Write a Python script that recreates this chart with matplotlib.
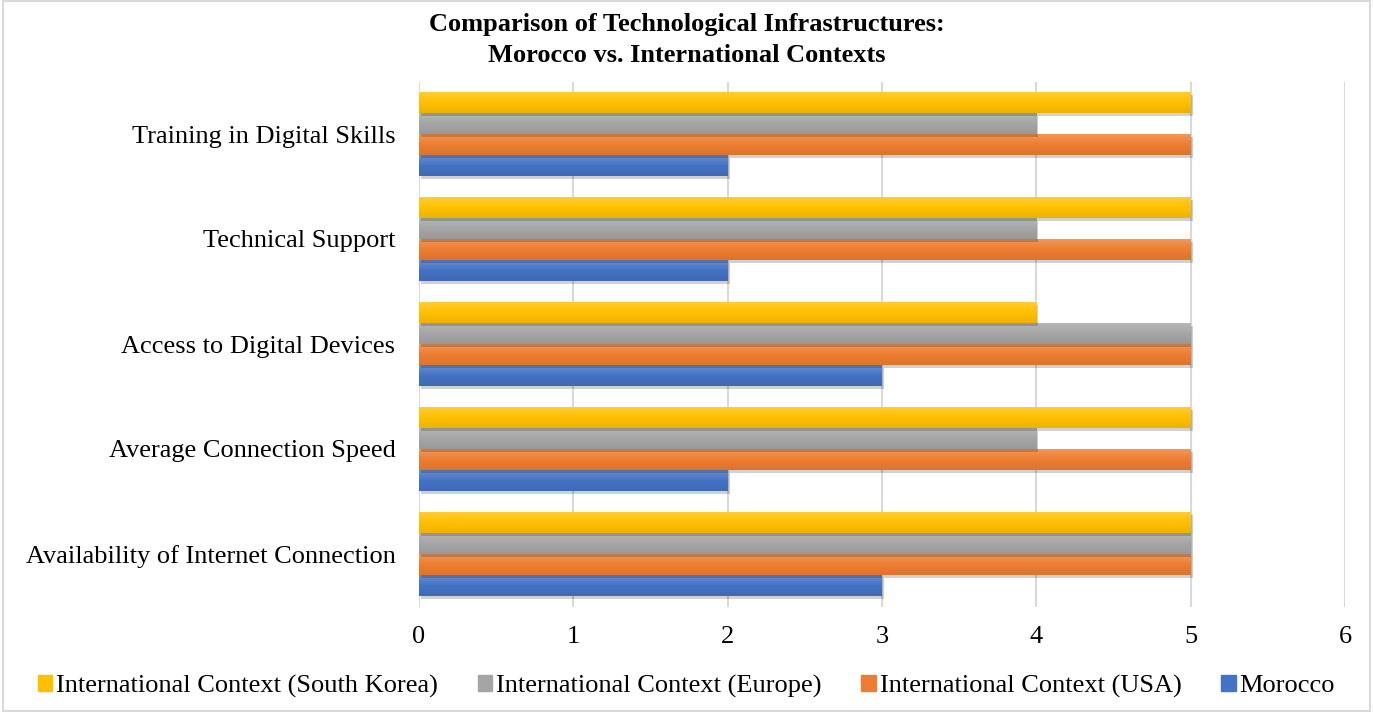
import matplotlib
matplotlib.use('Agg')
import matplotlib.pyplot as plt
import matplotlib.patheffects as pe
from matplotlib.patches import Rectangle
from matplotlib.colors import LinearSegmentedColormap, to_rgb
import numpy as np

categories = ['Availability of Internet Connection', 'Average Connection Speed',
              'Access to Digital Devices', 'Technical Support', 'Training in Digital Skills']
morocco = [3, 2, 3, 2, 2]
usa = [5, 5, 5, 5, 5]
europe = [5, 4, 5, 4, 4]
korea = [5, 5, 4, 5, 5]

series = [('Morocco', morocco, '#4472C4'),
          ('International Context (USA)', usa, '#ED7D31'),
          ('International Context (Europe)', europe, '#A5A5A5'),
          ('International Context (South Korea)', korea, '#FFC000')]

plt.rcParams['font.family'] = ['Liberation Serif', 'DejaVu Serif']

fig = plt.figure(figsize=(13.73, 7.12), dpi=100)
ax = fig.add_axes([419 / 1373, 1 - 606.5 / 712, (1345 - 419) / 1373, (606.5 - 81.5) / 712])

y = np.arange(len(categories))
h = 0.2
offsets = [-0.3, -0.1, 0.1, 0.3]
grad = np.linspace(0, 1, 50).reshape(-1, 1)
for i, ((name, vals, col), off) in enumerate(zip(series, offsets)):
    z = 3 + 2 * i
    ax.barh(y + off, vals, height=h, color=col, zorder=z,
            path_effects=[pe.SimplePatchShadow(offset=(1.5, -2.5), shadow_rgbFace='#000000', alpha=0.18),
                          pe.Normal()])
    c = np.array(to_rgb(col))
    top = c + (1 - c) * 0.2
    bot = c * 0.93
    cmap = LinearSegmentedColormap.from_list(name, [bot, c, top])
    for yy, v in zip(y + off, vals):
        ax.imshow(grad, extent=[0, v, yy - h / 2, yy + h / 2], aspect='auto', cmap=cmap,
                  origin='lower', zorder=z + 0.5, interpolation='bilinear')

ax.set_xlim(0, 6)
ax.set_ylim(-0.5, 4.5)
ax.set_xticks(range(7))
ax.set_yticks(y)
ax.set_yticklabels(categories)
ax.tick_params(axis='both', length=0, labelsize=19, colors='#000000')
ax.tick_params(axis='x', pad=14)
ax.tick_params(axis='y', pad=17)
ax.grid(axis='x', color='#D9D9D9', linewidth=1.5, zorder=0)
for s in ax.spines.values():
    s.set_visible(False)

fig.text(0.5, 1 - 25 / 712, 'Comparison of Technological Infrastructures:', ha='center', va='center',
         fontsize=19, fontweight='bold')
fig.text(0.5, 1 - 55 / 712, 'Morocco vs. International Contexts', ha='center', va='center',
         fontsize=19, fontweight='bold')

handles = [Rectangle((0, 0), 1, 1, color=s[2]) for s in series][::-1]
leg = fig.legend(handles, [s[0] for s in series][::-1], loc='center', bbox_to_anchor=(0.5, 1 - 686 / 712),
                 ncol=4, frameon=False, fontsize=19, handlelength=0.55, handleheight=0.55,
                 handletextpad=0.15, columnspacing=1.5)

fig.patches.append(Rectangle((0.002, 0.002), 0.996, 0.996, transform=fig.transFigure,
                             fill=False, edgecolor='#D9D9D9', linewidth=1.5))

fig.savefig('out.png', dpi=100, facecolor='white')
